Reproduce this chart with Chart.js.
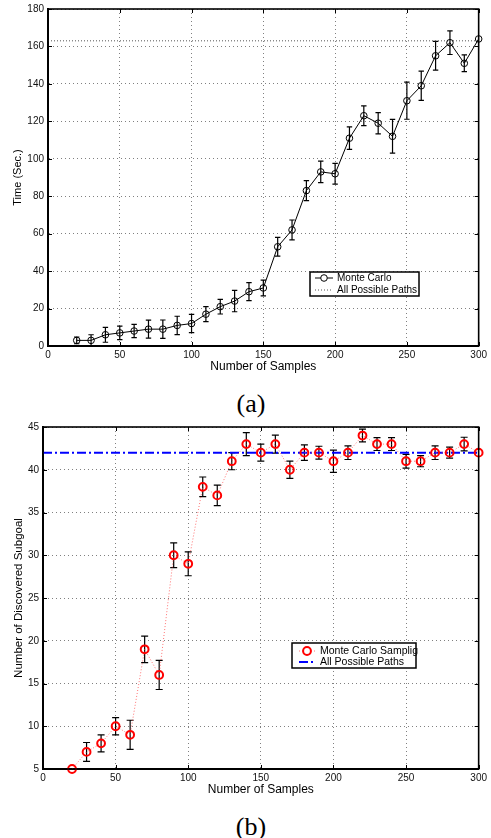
<!DOCTYPE html>
<html>
<head>
<meta charset="utf-8">
<script src="https://cdn.jsdelivr.net/npm/chart.js@4.4.0/dist/chart.umd.min.js"></script>
<style>
  body { margin: 0; background: #fff; }
  #wrap { position: relative; width: 491px; height: 838px; overflow: hidden; }
  canvas { position: absolute; left: 0; }
  .cap { position: absolute; left: 0; width: 502px; height: 30px; line-height: 30px;
         text-align: center; font-family: "Liberation Serif", "DejaVu Serif", serif;
         font-size: 26px; color: #000; }
</style>
</head>
<body>
<div id="wrap">
  <canvas id="chartA" width="491" height="378" style="top:0px"></canvas>
  <div class="cap" style="top:389px">(a)</div>
  <canvas id="chartB" width="491" height="383" style="top:418px"></canvas>
  <div class="cap" style="top:812px">(b)</div>
</div>
<script>
// number of samples (shared x values)
const samples = [20, 30, 40, 50, 60, 70, 80, 90, 100, 110, 120, 130, 140, 150, 160,
                 170, 180, 190, 200, 210, 220, 230, 240, 250, 260, 270, 280, 290, 300];

// (a) running time
const timeMean = [3, 3, 6, 7, 8, 9, 9, 11, 12, 17, 21, 24, 29, 31, 53,
                  62, 83, 93, 92, 111, 123, 119, 112, 131, 139, 155, 162, 151, 164];
const timeErr = [1.8, 3, 4, 3.6, 3.5, 4.8, 4.9, 4.9, 4.9, 4, 3.9, 5.7, 4.8, 4.2, 5,
                 5.3, 5.3, 5.7, 5.5, 6, 5.3, 5.7, 9, 9.9, 7.8, 7.7, 6.3, 4.5, 0];
const allPathsTime = 163;
const timeTicks = [0, 20, 40, 60, 80, 100, 120, 140, 160, 180];

// (b) discovered subgoals
const subgoalMean = [5, 7, 8, 10, 9, 19, 16, 30, 29, 38, 37, 41, 43, 42, 43,
                     40, 42, 42, 41, 42, 44, 43, 43, 41, 41, 42, 42, 43, 42];
const subgoalErr = [0, 1.1, 1, 1, 1.7, 1.55, 1.7, 1.45, 1.4, 1.15, 1.2, 1, 1.35, 1, 1.05,
                    1, 0.9, 0.75, 1.3, 0.8, 0.75, 0.75, 0.75, 0.8, 0.65, 0.8, 0.65, 0.8, 0];
const allPathsSubgoal = 42;
const subgoalTicks = [5, 10, 15, 20, 25, 30, 35, 40, 45];

const sampleTicks = [0, 50, 100, 150, 200, 250, 300];

const FONT = '"Liberation Sans", Arial, Helvetica, sans-serif';

// error bars, matlab style frame with inward ticks, and a boxed legend
const matlabPlugin = {
  id: 'matlab',
  beforeDatasetsDraw(chart) {
    const ctx = chart.ctx;
    const xs = chart.scales.x, ys = chart.scales.y;
    chart.data.datasets.forEach((ds) => {
      if (!ds.errors) return;
      ctx.save();
      ctx.strokeStyle = '#000';
      ctx.lineWidth = 1.2;
      ds.data.forEach((p, i) => {
        const e = ds.errors[i];
        if (!e) return;
        const px = xs.getPixelForValue(p.x);
        const top = ys.getPixelForValue(p.y + e);
        const bot = ys.getPixelForValue(p.y - e);
        const cw = ds.capWidth || 3;
        ctx.beginPath();
        ctx.moveTo(px, top); ctx.lineTo(px, bot);
        ctx.moveTo(px - cw, top); ctx.lineTo(px + cw, top);
        ctx.moveTo(px - cw, bot); ctx.lineTo(px + cw, bot);
        ctx.stroke();
      });
      ctx.restore();
    });
  },
  afterDatasetsDraw(chart, args, opts) {
    const ctx = chart.ctx;
    const a = chart.chartArea;
    const xs = chart.scales.x, ys = chart.scales.y;
    ctx.save();
    ctx.strokeStyle = '#000';
    ctx.lineWidth = 1;
    ctx.beginPath();
    xs.ticks.forEach(t => {
      const px = Math.round(xs.getPixelForValue(t.value)) + 0.5;
      ctx.moveTo(px, a.bottom); ctx.lineTo(px, a.bottom - 4);
      ctx.moveTo(px, a.top); ctx.lineTo(px, a.top + 4);
    });
    ys.ticks.forEach(t => {
      const py = Math.round(ys.getPixelForValue(t.value)) + 0.5;
      ctx.moveTo(a.left, py); ctx.lineTo(a.left + 4, py);
      ctx.moveTo(a.right, py); ctx.lineTo(a.right - 4, py);
    });
    ctx.stroke();
    ctx.lineWidth = 1.6;
    ctx.strokeRect(a.left, a.top, a.right - a.left, a.bottom - a.top);

    // legend
    const lg = opts.legend;
    ctx.fillStyle = '#fff';
    ctx.fillRect(lg.left, lg.top, lg.width, lg.height);
    ctx.lineWidth = 1.5;
    ctx.strokeStyle = '#000';
    ctx.strokeRect(lg.left, lg.top, lg.width, lg.height);
    ctx.font = lg.fontSize + 'px ' + FONT;
    ctx.textBaseline = 'middle';
    chart.data.datasets.forEach((ds, i) => {
      const y = lg.top + lg.rows[i];
      ctx.save();
      ctx.strokeStyle = ds.borderColor;
      ctx.lineWidth = ds.borderWidth;
      ctx.setLineDash(ds.borderDash || []);
      ctx.beginPath();
      ctx.moveTo(lg.left + lg.sample[0], y);
      ctx.lineTo(lg.left + lg.sample[1], y);
      ctx.stroke();
      ctx.restore();
      if (ds.pointRadius) {
        ctx.save();
        ctx.strokeStyle = ds.pointBorderColor;
        ctx.lineWidth = ds.pointBorderWidth;
        ctx.beginPath();
        ctx.arc(lg.left + (lg.sample[0] + lg.sample[1]) / 2, y, ds.pointRadius, 0, Math.PI * 2);
        ctx.fillStyle = '#fff';
        ctx.fill();
        ctx.stroke();
        ctx.restore();
      }
      ctx.fillStyle = '#000';
      ctx.fillText(ds.label, lg.left + lg.textX, y);
    });
    ctx.restore();
  }
};

function xy(xv, yv) {
  return xv.map((v, i) => ({ x: v, y: yv[i] }));
}

function makeScales(yMin, yMax, yTicks, yTitle, yWidth, yTitlePad, yTitleSize) {
  const grid = { color: '#808080', lineWidth: 1, drawTicks: false };
  const border = { display: true, color: '#000', width: 2, dash: [1, 3] };
  return {
    x: {
      type: 'linear', min: 0, max: 300,
      afterBuildTicks: s => { s.ticks = sampleTicks.map(v => ({ value: v })); },
      afterFit: s => { s.height = 32; },
      ticks: { font: { family: FONT, size: 10, lineHeight: 1 }, color: '#111', padding: 4 },
      grid: grid, border: border,
      title: { display: true, text: 'Number of Samples', color: '#000',
               font: { family: FONT, size: 12 }, padding: { top: 0, bottom: 4 } }
    },
    y: {
      type: 'linear', min: yMin, max: yMax,
      afterBuildTicks: s => { s.ticks = yTicks.map(v => ({ value: v })); },
      afterFit: s => { s.width = yWidth; },
      ticks: { font: { family: FONT, size: 10, lineHeight: 1 }, color: '#111', padding: 4 },
      grid: grid, border: border,
      title: { display: true, text: yTitle, color: '#000',
               font: { family: FONT, size: yTitleSize }, padding: { top: yTitlePad, bottom: 0 } }
    }
  };
}

new Chart(document.getElementById('chartA'), {
  type: 'line',
  data: {
    datasets: [
      {
        label: 'Monte Carlo',
        data: xy(samples, timeMean),
        errors: timeErr,
        capWidth: 2.7,
        borderColor: '#000',
        borderWidth: 1,
        pointRadius: 3.3,
        pointBorderColor: '#000',
        pointBorderWidth: 1,
        pointBackgroundColor: 'rgba(0,0,0,0)',
        tension: 0,
        clip: false
      },
      {
        label: 'All Possible Paths',
        data: xy([0, 300], [allPathsTime, allPathsTime]),
        borderColor: '#555',
        borderWidth: 1,
        borderDash: [1, 2],
        pointRadius: 0,
        clip: false
      }
    ]
  },
  options: {
    responsive: false,
    animation: false,
    layout: { padding: { top: 6, right: 12, left: 0, bottom: 0 } },
    scales: makeScales(0, 180, timeTicks, 'Time (Sec.)', 48, 11, 11),
    plugins: {
      legend: { display: false },
      tooltip: { enabled: false },
      matlab: { legend: { left: 310, top: 272, width: 109, height: 24, rows: [6, 18],
                          sample: [5, 23], textX: 27, fontSize: 10 } }
    }
  },
  plugins: [matlabPlugin]
});

new Chart(document.getElementById('chartB'), {
  type: 'line',
  data: {
    datasets: [
      {
        label: 'Monte Carlo Samplig',
        data: xy(samples, subgoalMean),
        errors: subgoalErr,
        capWidth: 3.5,
        borderColor: 'rgba(255,70,70,0.75)',
        borderWidth: 1,
        borderDash: [1, 2],
        pointRadius: 3.9,
        pointBorderColor: '#ff0000',
        pointBorderWidth: 2,
        pointBackgroundColor: 'rgba(0,0,0,0)',
        tension: 0,
        clip: false
      },
      {
        label: 'All Possible Paths',
        data: xy([0, 300], [allPathsSubgoal, allPathsSubgoal]),
        borderColor: '#0000ff',
        borderWidth: 2,
        borderDash: [9, 3, 2, 3],
        pointRadius: 0,
        clip: false
      }
    ]
  },
  options: {
    responsive: false,
    animation: false,
    layout: { padding: { top: 6, right: 12, left: 0, bottom: 0 } },
    scales: makeScales(5, 45, subgoalTicks, 'Number of Discovered Subgoal', 43, 12, 11.5),
    plugins: {
      legend: { display: false },
      tooltip: { enabled: false },
      matlab: { legend: { left: 292, top: 225, width: 124, height: 25, rows: [8, 19],
                          sample: [7, 23], textX: 28, fontSize: 10.5 } }
    }
  },
  plugins: [matlabPlugin]
});
</script>
</body>
</html>
